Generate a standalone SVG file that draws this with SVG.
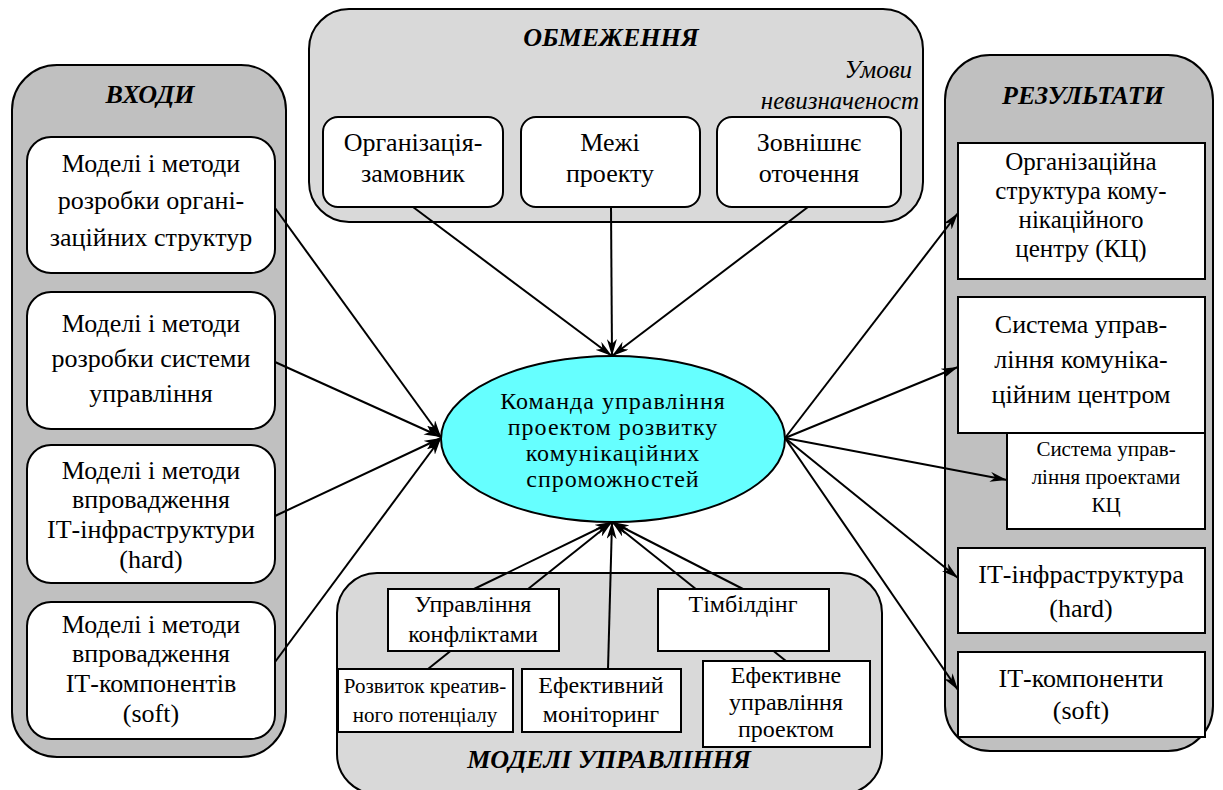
<svg xmlns="http://www.w3.org/2000/svg" width="1223" height="790" viewBox="0 0 1223 790" font-family="Liberation Serif, serif">
<style>
text{font-family:"Liberation Serif","Times New Roman",serif;fill:#000}
.t{font-size:26px;text-anchor:middle}
.ts{font-size:24px;text-anchor:middle}
.tx{font-size:21px;text-anchor:middle}
.ttl{font-size:26px;font-weight:bold;font-style:italic;text-anchor:middle}
.it{font-size:25px;font-style:italic;text-anchor:end}
.pd{fill:#c0c0c0;stroke:#000;stroke-width:2}
.pl{fill:#d9d9d9;stroke:#000;stroke-width:2}
.rb{fill:#fff;stroke:#000;stroke-width:2}
.sb{fill:#fff;stroke:#000;stroke-width:2}
.c line{stroke:#000;stroke-width:2;marker-end:url(#ah)}
</style>
<defs>
<marker id="ah" viewBox="0 0 17 10" refX="17" refY="5" markerWidth="17" markerHeight="10" markerUnits="userSpaceOnUse" orient="auto">
<path d="M0,0 L17,5 L0,10 L5,5 z" fill="#000"/>
</marker>
<clipPath id="clipTop"><rect x="309" y="9" width="611" height="213"/></clipPath>
</defs>
<rect width="1223" height="790" fill="#fff"/>

<g id="panel-inputs">
<rect class="pd" x="12" y="65" width="274" height="692" rx="45"/>
<text class="ttl" x="150" y="103">ВХОДИ</text>
</g>
<g id="panel-constraints">
<rect class="pl" x="309" y="9" width="614" height="213" rx="40"/>
<text class="ttl" x="611" y="46">ОБМЕЖЕННЯ</text>
<text class="it" x="912" y="78">Умови</text>
<text class="it" x="926" y="109" clip-path="url(#clipTop)">невизначеності</text>
</g>
<g id="panel-results">
<rect class="pd" x="945" y="55" width="268" height="696" rx="45"/>
<text class="ttl" x="1083" y="104">РЕЗУЛЬТАТИ</text>
</g>
<g id="panel-models">
<rect class="pl" x="337" y="573" width="545" height="221" rx="40"/>
<text class="ttl" x="609" y="768">МОДЕЛІ УПРАВЛІННЯ</text>
</g>

<g id="connectors" class="c">
<line x1="275" y1="208" x2="441" y2="437"/>
<line x1="275" y1="362" x2="441" y2="437"/>
<line x1="275" y1="516" x2="441" y2="438"/>
<line x1="275" y1="662" x2="441" y2="438"/>
<line x1="413" y1="207" x2="612" y2="356"/>
<line x1="611" y1="207" x2="612" y2="356"/>
<line x1="808" y1="207" x2="612" y2="356"/>
<line x1="474" y1="589" x2="612" y2="522"/>
<line x1="428" y1="669" x2="612" y2="522"/>
<line x1="608" y1="669" x2="612" y2="522"/>
<line x1="786" y1="661" x2="612" y2="522"/>
<line x1="743" y1="589" x2="612" y2="522"/>
<line x1="785" y1="438" x2="958" y2="213"/>
<line x1="785" y1="438" x2="958" y2="367"/>
<line x1="785" y1="438" x2="1007" y2="480"/>
<line x1="785" y1="438" x2="958" y2="578"/>
<line x1="785" y1="438" x2="958" y2="690"/>
</g>

<g id="in-1"><rect class="rb" x="27" y="137" width="248" height="136" rx="24"/>
<text class="t"><tspan x="151" y="172">Моделі і методи</tspan><tspan x="151" y="209">розробки органі-</tspan><tspan x="151" y="246">заційних структур</tspan></text></g>
<g id="in-2"><rect class="rb" x="27" y="292" width="248" height="137" rx="24"/>
<text class="t"><tspan x="151" y="332">Моделі і методи</tspan><tspan x="151" y="367">розробки системи</tspan><tspan x="151" y="402">управління</tspan></text></g>
<g id="in-3"><rect class="rb" x="27" y="445" width="248" height="138" rx="24"/>
<text class="t"><tspan x="151" y="479">Моделі і методи</tspan><tspan x="151" y="508">впровадження</tspan><tspan x="151" y="538">ІТ-інфраструктури</tspan><tspan x="151" y="568">(hard)</tspan></text></g>
<g id="in-4"><rect class="rb" x="27" y="602" width="248" height="137" rx="24"/>
<text class="t"><tspan x="151" y="633">Моделі і методи</tspan><tspan x="151" y="662">впровадження</tspan><tspan x="151" y="692">ІТ-компонентів</tspan><tspan x="151" y="722">(soft)</tspan></text></g>

<g id="con-1"><rect class="rb" x="323" y="117" width="180" height="90" rx="15"/>
<text class="t"><tspan x="413" y="151">Організація-</tspan><tspan x="413" y="182">замовник</tspan></text></g>
<g id="con-2"><rect class="rb" x="521" y="117" width="179" height="90" rx="15"/>
<text class="t"><tspan x="610" y="151">Межі</tspan><tspan x="610" y="182">проекту</tspan></text></g>
<g id="con-3"><rect class="rb" x="717" y="117" width="184" height="90" rx="15"/>
<text class="t"><tspan x="809" y="151">Зовнішнє</tspan><tspan x="809" y="182">оточення</tspan></text></g>

<g id="team"><ellipse cx="613" cy="439" rx="172" ry="83" fill="#66ffff" stroke="#000" stroke-width="2"/>
<text style="font-size:24px;letter-spacing:1px;text-anchor:middle"><tspan x="613" y="409">Команда управління</tspan><tspan x="613" y="435">проектом розвитку</tspan><tspan x="613" y="461">комунікаційних</tspan><tspan x="613" y="487">спроможностей</tspan></text></g>

<g id="res-1"><rect class="sb" x="958" y="143" width="247" height="136"/>
<text style="font-size:25px;text-anchor:middle"><tspan x="1081" y="170">Організаційна</tspan><tspan x="1081" y="199">структура кому-</tspan><tspan x="1081" y="228">нікаційного</tspan><tspan x="1081" y="257">центру (КЦ)</tspan></text></g>
<g id="res-2"><rect class="sb" x="958" y="297" width="247" height="136"/>
<text class="t"><tspan x="1081" y="333">Система управ-</tspan><tspan x="1081" y="368">ління комуніка-</tspan><tspan x="1081" y="403">ційним центром</tspan></text></g>
<g id="res-3"><rect class="sb" x="1007" y="433" width="198" height="96"/>
<text class="tx"><tspan x="1106" y="456">Система управ-</tspan><tspan x="1106" y="484">ління проектами</tspan><tspan x="1106" y="512">КЦ</tspan></text></g>
<g id="res-4"><rect class="sb" x="958" y="548" width="247" height="85"/>
<text class="t"><tspan x="1081" y="583">ІТ-інфраструктура</tspan><tspan x="1081" y="617">(hard)</tspan></text></g>
<g id="res-5"><rect class="sb" x="958" y="652" width="247" height="85"/>
<text class="t"><tspan x="1081" y="687">ІТ-компоненти</tspan><tspan x="1081" y="719">(soft)</tspan></text></g>

<g id="mod-1"><rect class="sb" x="388" y="589" width="171" height="62"/>
<text class="ts"><tspan x="473" y="612">Управління</tspan><tspan x="473" y="642">конфліктами</tspan></text></g>
<g id="mod-2"><rect class="sb" x="658" y="589" width="171" height="62"/>
<text class="ts"><tspan x="743" y="612">Тімбілдінг</tspan></text></g>
<g id="mod-3"><rect class="sb" x="338" y="669" width="175" height="63"/>
<text class="tx"><tspan x="425" y="693">Розвиток креатив-</tspan><tspan x="425" y="722">ного потенціалу</tspan></text></g>
<g id="mod-4"><rect class="sb" x="522" y="669" width="159" height="63"/>
<text class="ts"><tspan x="601" y="693">Ефективний</tspan><tspan x="601" y="722">моніторинг</tspan></text></g>
<g id="mod-5"><rect class="sb" x="703" y="661" width="167" height="86"/>
<text class="ts"><tspan x="786" y="683">Ефективне</tspan><tspan x="786" y="710">управління</tspan><tspan x="786" y="737">проектом</tspan></text></g>
</svg>
